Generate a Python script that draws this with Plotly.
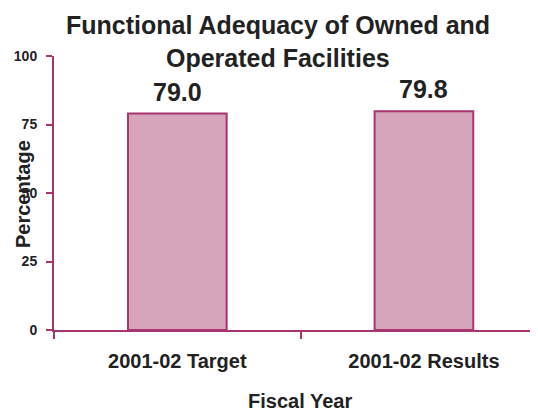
import plotly.graph_objects as go

categories = ["2001-02 Target", "2001-02 Results"]
values = [79.0, 79.8]
value_labels = ["79.0", "79.8"]
y_ticks = [0, 25, 50, 75, 100]
title_lines = ["Functional Adequacy of Owned and", "Operated Facilities"]

axis_color = "#A8356F"
bar_fill = "#D6A4BB"
text_color = "#222222"
FONT = "Arial, Liberation Sans, sans-serif"

OFF = 8  # page body margin
WIN_W, WIN_H = 538, 411
W, H = WIN_W - OFF, WIN_H - OFF
# plot area in window pixels
PL, PT, PB = 54, 56, 330
L = PL - OFF
T = PT - OFF
B = H - (PB - OFF)
plot_w = W - L
plot_h = H - T - B


def px_x(x):
    return (x - PL) / plot_w


def px_y(y):
    return (PB - y) / plot_h


fig = go.Figure()
fig.add_trace(go.Bar(
    x=categories, y=values, width=0.40,
    marker=dict(color=bar_fill, line=dict(color=axis_color, width=2)),
    hoverinfo="skip",
))
for c, v, t in zip(categories, values, value_labels):
    fig.add_annotation(x=c, y=v, text="<b>%s</b>" % t, showarrow=False,
                       yanchor="bottom", yshift=6,
                       font=dict(family=FONT, size=25, color=text_color))

for line, ypx in zip(title_lines, [25, 58]):
    fig.add_annotation(xref="paper", yref="paper", x=px_x(278), y=px_y(ypx),
                       text="<b>%s</b>" % line, showarrow=False,
                       xanchor="center", yanchor="middle",
                       font=dict(family=FONT, size=25, color=text_color))

fig.add_annotation(xref="paper", yref="paper", x=px_x(23), y=px_y(194),
                   text="<b>Percentage</b>", textangle=-90, showarrow=False,
                   xanchor="center", yanchor="middle",
                   font=dict(family=FONT, size=20, color=text_color))
fig.add_annotation(xref="paper", yref="paper", x=px_x(300), y=px_y(401),
                   text="<b>Fiscal Year</b>", showarrow=False,
                   xanchor="center", yanchor="middle",
                   font=dict(family=FONT, size=20, color=text_color))

fig.update_layout(
    width=W, height=H,
    margin=dict(l=L, r=0, t=T, b=B, pad=0),
    paper_bgcolor="white", plot_bgcolor="white",
    showlegend=False,
    font=dict(family=FONT, color=text_color),
)
fig.update_xaxes(
    range=[-0.5, 1.4625], showline=True, linecolor=axis_color, linewidth=2,
    ticks="outside", tickson="boundaries", ticklen=7, tickcolor=axis_color, tickwidth=2,
    tickfont=dict(size=20, color=text_color, family=FONT, weight="bold"),
    ticklabelstandoff=12,
    showgrid=False, zeroline=False, fixedrange=True, automargin=False,
)
fig.update_yaxes(
    range=[0, 100], tickvals=y_ticks, showline=True, linecolor=axis_color, linewidth=2,
    ticks="outside", ticklen=6, tickcolor=axis_color, tickwidth=2,
    tickfont=dict(size=14, color=text_color, family=FONT, weight="bold"),
    ticklabelstandoff=6,
    showgrid=False, zeroline=False, fixedrange=True, automargin=False,
)
fig.write_html("out.html")
